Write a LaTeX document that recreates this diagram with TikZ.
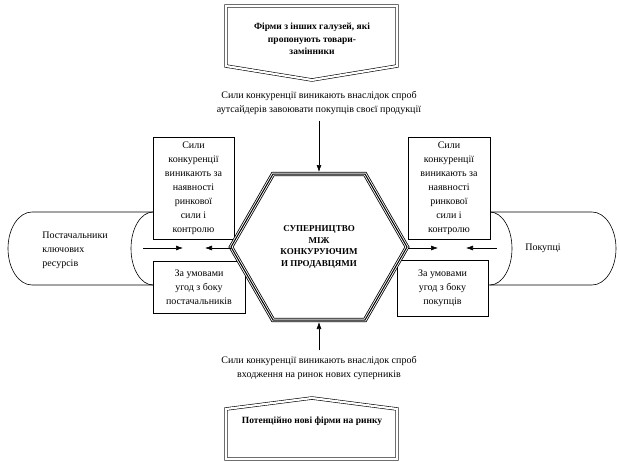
\documentclass[tikz,border=0pt]{standalone}
\usepackage{fontspec}
\setmainfont{Liberation Serif}
\usetikzlibrary{arrows.meta}

\begin{document}
\begin{tikzpicture}[x=1pt,y=-1pt,>={Latex[length=7pt,width=5pt]},
    font=\fontsize{10}{14}\selectfont, line width=0.6pt]
  \useasboundingbox (0,0) rectangle (619,461);
  \tikzstyle{box}=[draw, fill=white, align=center, inner sep=0pt]
  \tikzstyle{title}=[align=center, font=\fontsize{9.5}{12.5}\selectfont\bfseries]
  \tikzstyle{rim}=[draw, double, double distance=2.2pt, line join=miter]
  \tikzstyle{note}=[align=center, inner sep=0pt, outer sep=6pt]

  % cylinders behind the boxes
  \draw (160,212) -- (32,212) arc[start angle=90, end angle=270, x radius=24pt, y radius=36.5pt] -- (160,285);
  \draw (153,212) arc[start angle=90, end angle=270, x radius=22pt, y radius=36.5pt];
  \draw (482,212) -- (592,212) arc[start angle=90, end angle=-90, x radius=24pt, y radius=36.5pt] -- (482,285);
  \draw (490,212) arc[start angle=90, end angle=-90, x radius=22pt, y radius=36.5pt];
  \node[anchor=west, align=left, inner sep=0pt] (suppliers) at (42,250) {Постачальники\\ключових\\ресурсів};
  \node[inner sep=0pt] (buyers) at (543,248) {Покупці};

  % boxes
  \node[box, minimum width=81pt, minimum height=102pt] (power-l) at (193.5,188.5)
    {Сили\\конкуренції\\виникають за\\наявності\\ринкової\\сили і\\контролю};
  \node[box, minimum width=92pt, minimum height=52pt] (deals-l) at (199,287)
    {За умовами\\угод з боку\\постачальників};
  \node[box, minimum width=82pt, minimum height=102pt] (power-r) at (449,188.5)
    {Сили\\конкуренції\\виникають за\\наявності\\ринкової\\сили і\\контролю};
  \node[box, minimum width=91pt, minimum height=56pt] (deals-r) at (442.5,288)
    {За умовами\\угод з боку\\покупців};

  % hexagon
  \coordinate (hex) at (319,247);
  \fill[white] ([shift={(-88,0)}]hex) -- ++(42,-73) -- ++(92,0) -- ++(42,73) -- ++(-42,73) -- ++(-92,0) -- cycle;
  \foreach \w/\c in {4.4pt/black, 2.8pt/white, 1pt/black}
    \draw[line width=\w, \c, line join=miter] ([shift={(-88,0)}]hex) -- ++(42,-73) -- ++(92,0)
      -- ++(42,73) -- ++(-42,73) -- ++(-92,0) -- cycle;
  \node[title, font=\fontsize{9}{11.5}\selectfont\bfseries] (rivalry) at (hex)
    {СУПЕРНИЦТВО\\МІЖ\\КОНКУРУЮЧИМ\\И ПРОДАВЦЯМИ};
  \coordinate (hex-top) at (319,172);
  \coordinate (hex-bot) at (319,322);

  % top and bottom
  \draw[rim] (226,6) -- (397,6) -- (397,66) -- (312,80) -- (226,66) -- cycle;
  \node[title] (substitutes) at (312,39) {Фірми з інших галузей, які\\пропонують товари-\\замінники};
  \node[note] (outsiders) at (319,103)
    {Сили конкуренції виникають внаслідок спроб\\аутсайдерів завоювати покупців своєї продукції};
  \node[note] (newcomers) at (319,368)
    {Сили конкуренції виникають внаслідок спроб\\входження на ринок нових суперників};
  \draw[rim] (226,459) -- (226,409) -- (312,398) -- (397,409) -- (397,459) -- cycle;
  \node[title] (entrants) at (312,421) {Потенційно нові фірми на ринку};

  % arrows
  \draw[->] (outsiders) -- (hex-top);
  \draw[->] (newcomers) -- (hex-bot);
  \coordinate (sup-a) at (143,248);
  \coordinate (sup-b) at (183,248);
  \coordinate (sup-c) at (231,248);
  \coordinate (sup-d) at (205,248);
  \coordinate (buy-a) at (408,248);
  \coordinate (buy-b) at (438,248);
  \coordinate (buy-c) at (497,248);
  \coordinate (buy-d) at (466,248);
  \draw[->] (sup-a) -- (sup-b);
  \draw[->] (sup-c) -- (sup-d);
  \draw[->] (buy-a) -- (buy-b);
  \draw[->] (buy-c) -- (buy-d);
\end{tikzpicture}
\end{document}
